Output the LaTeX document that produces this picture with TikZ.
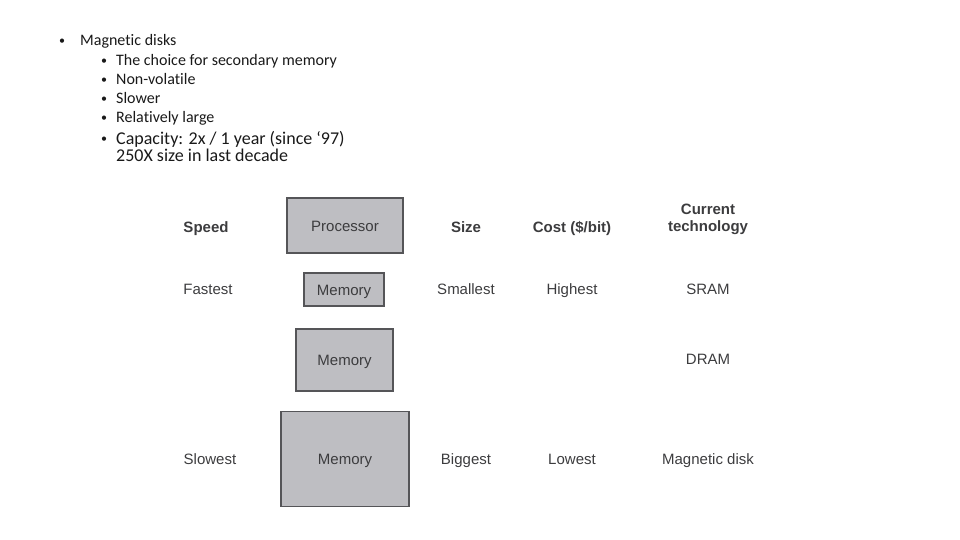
\documentclass[tikz,border=0pt]{standalone}
\usepackage{fontspec}
\setmainfont{Carlito}[Ligatures=NoCommon]
\newfontfamily\diagfont{Liberation Sans}
\usepackage{tikz}
\usetikzlibrary{positioning}
\usepackage{xcolor}
\definecolor{boxgray}{RGB}{190,190,194}
\definecolor{boxedge}{RGB}{85,85,88}
\definecolor{labelgray}{RGB}{60,60,62}
\definecolor{bullettext}{RGB}{25,25,25}
\tikzset{
  memblock/.style={rectangle, draw=boxedge, line width=1.2pt, fill=boxgray, inner sep=0pt,
                   font=\diagfont\fontsize{15}{16}\selectfont, text=labelgray,
                   text height=12.5pt, text depth=1.5pt},
  colhead/.style={font=\diagfont\bfseries\fontsize{15}{16}\selectfont, text=labelgray, align=center,
                  inner sep=0pt, text height=12pt, text depth=2pt},
  cell/.style={font=\diagfont\fontsize{15}{16}\selectfont, text=labelgray, inner sep=0pt,
               text height=12pt, text depth=2pt},
  item/.style={anchor=west, inner sep=0pt, text=bullettext, font=\fontsize{16}{18}\selectfont,
               text height=12pt, text depth=2.5pt},
  bigitem/.style={item, font=\fontsize{18}{20}\selectfont, text height=14pt, text depth=3.5pt},
  dot/.style={inner sep=0pt, text=bullettext, font=\fontsize{12}{12}\selectfont},
}
\begin{document}
\begin{tikzpicture}[x=1pt, y=-1pt]
\useasboundingbox (0,0) rectangle (960,540);
% bullet list
\node[dot] (b0) at (62,41.5) {•};
\node[item] (magdisk) at (80,41) {Magnetic disks};
\node[dot] (b1) at (104,61.5) {•};
\node[item] (choice) at (116,61) {The choice for secondary memory};
\node[dot] (b2) at (104,80.5) {•};
\node[item] (nonvol) at (116,80) {Non-volatile};
\node[dot] (b3) at (104,99.5) {•};
\node[item] (slower) at (116,99) {Slower};
\node[dot] (b4) at (104,118.5) {•};
\node[item] (large) at (116,118) {Relatively large};
\node[dot] (b5) at (104,139.5) {•};
\node[bigitem] (capacity) at (116,139) {Capacity: 2x / 1 year (since ‘97)};
\node[bigitem] (decade) at (116,156) {250X size in last decade};
% hierarchy boxes
\node[memblock, minimum width=116pt, minimum height=55pt] (proc) at (345,225.5) {Processor};
\node[memblock, minimum width=80pt, minimum height=33pt] (sram) at (344,289.5) {Memory};
\node[memblock, minimum width=97pt, minimum height=62pt] (dram) at (344.5,360) {Memory};
\node[memblock, minimum width=128pt, minimum height=95pt] (disk) at (345,459) {Memory};
% columns
\node[colhead] (speed) at (206,227) {Speed};
\node[colhead] (size) at (466,227) {Size};
\node[colhead] (cost) at (572,227) {Cost (\$/bit)};
\node[colhead, font=\diagfont\bfseries\fontsize{15}{16.5}\selectfont] (tech) at (708,226) {Current\\technology};
\node[cell] (fastest) at (208,289) {Fastest};
\node[cell] (smallest) at (466,289) {Smallest};
\node[cell] (highest) at (572,289) {Highest};
\node[cell] (sramtxt) at (708,289) {SRAM};
\node[cell] (dramtxt) at (708,359) {DRAM};
\node[cell] (slowest) at (210,459) {Slowest};
\node[cell] (biggest) at (466,459) {Biggest};
\node[cell] (lowest) at (572,459) {Lowest};
\node[cell] (disktxt) at (708,459) {Magnetic disk};
\end{tikzpicture}
\end{document}
